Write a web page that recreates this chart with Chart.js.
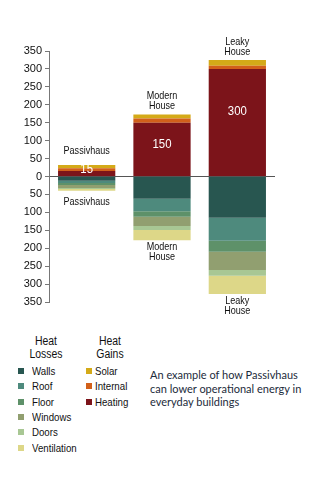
<!DOCTYPE html>
<html>
<head>
<meta charset="utf-8">
<script src="https://cdn.jsdelivr.net/npm/chart.js@4.4.1/dist/chart.umd.min.js"></script>
<style>
    body { margin: 0; background: #fff; width: 327px; height: 480px; position: relative; overflow: hidden; }
    #wrap { position: absolute; left: 0; top: 0; width: 327px; height: 330px; }
    .legend { position: absolute; font-family: "Liberation Sans", sans-serif; color: #111; font-size: 11px; }
    .legend .head { position: absolute; text-align: center; font-size: 12px; line-height: 12.5px; width: 60px; transform: scaleX(0.87); }
    .legend .item { position: absolute; white-space: nowrap; line-height: 12px; transform: scaleX(0.88); transform-origin: left center; }
    .legend .sw { position: absolute; width: 6px; height: 6px; }
    .caption { position: absolute; left: 150px; top: 368px; font-family: Lato, "Open Sans", sans-serif; font-size: 11px; line-height: 13.5px; color: #1c2b3b; }
</style>
</head>
<body>
<div id="wrap"><canvas id="chart"></canvas></div>
<div class="legend" id="legend"></div>
<div class="caption">An example of how Passivhaus<br>can lower operational energy in<br>everyday buildings</div>
<script>
// values (kWh/m2/yr), losses drawn below zero
const categories = ['Passivhaus', 'Modern House', 'Leaky House'];
const heating = [15, 150, 300];
const internal = [8, 12, 9];
const solar = [9, 11, 16];
const walls = [-12, -62, -115];
const roof = [-6, -35, -64];
const floor = [-6, -15, -31];
const windows = [-8, -26, -51];
const doors = [-3, -11, -16];
const ventilation = [-5, -29, -51];
const yTicks = [-350, -300, -250, -200, -150, -100, -50, 0, 50, 100, 150, 200, 250, 300, 350];

const lossSeries = [
    { label: 'Walls', data: walls, color: '#285650' },
    { label: 'Roof', data: roof, color: '#4e8a7d' },
    { label: 'Floor', data: floor, color: '#5e9169' },
    { label: 'Windows', data: windows, color: '#919f70' },
    { label: 'Doors', data: doors, color: '#a8c794' },
    { label: 'Ventilation', data: ventilation, color: '#ddd788' }
];
const gainSeries = [
    { label: 'Heating', data: heating, color: '#7c141a' },
    { label: 'Internal', data: internal, color: '#d2601a' },
    { label: 'Solar', data: solar, color: '#d4aa18' }
];

// condensed text: squeeze horizontally around the anchor
function narrowText(ctx, txt, x, y, sx) {
    ctx.save();
    ctx.translate(x, y);
    ctx.scale(sx, 1);
    ctx.fillText(txt, 0, 0);
    ctx.restore();
}

const barLabels = {
    id: 'barLabels',
    afterDatasetsDraw(chart) {
        const ctx = chart.ctx;
        const y = chart.scales.y;
        const x = chart.scales.x;
        ctx.save();
        categories.forEach((name, i) => {
            const cx = x.getPixelForValue(i);
            const top = heating[i] + internal[i] + solar[i];
            const bottom = walls[i] + roof[i] + floor[i] + windows[i] + doors[i] + ventilation[i];
            const lines = name.split(' ');
            ctx.fillStyle = '#111';
            ctx.font = '10.5px "Liberation Sans", sans-serif';
            ctx.textAlign = 'center';
            // names above
            ctx.textBaseline = 'bottom';
            const gapTop = lines.length === 1 ? 9 : 3;
            lines.slice().reverse().forEach((ln, k) => {
                narrowText(ctx, ln, cx, y.getPixelForValue(top) - gapTop - k * 10, 0.86);
            });
            // names below
            ctx.textBaseline = 'top';
            const gapBot = lines.length === 1 ? 6 : 2;
            lines.forEach((ln, k) => {
                narrowText(ctx, ln, cx, y.getPixelForValue(bottom) + gapBot + k * 10, 0.86);
            });
            // heating value
            ctx.fillStyle = '#fff';
            ctx.font = '12px "Liberation Sans", sans-serif';
            ctx.textBaseline = 'middle';
            narrowText(ctx, String(heating[i]), cx, y.getPixelForValue(Math.max(heating[i] * 0.6, 18)), 0.95);
        });
        ctx.restore();
    }
};

new Chart(document.getElementById('chart'), {
    type: 'bar',
    data: {
        labels: categories,
        datasets: [...gainSeries, ...lossSeries].map(s => ({
            label: s.label,
            data: s.data,
            backgroundColor: s.color,
            borderWidth: 0,
            barPercentage: 0.76,
            categoryPercentage: 1
        }))
    },
    options: {
        responsive: true, maintainAspectRatio: false, animation: false,
        layout: { padding: { left: 0, right: 52, top: 51, bottom: 28 } },
        plugins: { legend: { display: false }, tooltip: { enabled: false } },
        scales: {
            x: { stacked: true, display: false },
            y: {
                stacked: true, min: -350, max: 350,
                afterBuildTicks: s => { s.ticks = yTicks.map(v => ({ value: v })); },
                afterFit: s => { s.width = 49; },
                border: { color: '#777', width: 1 },
                grid: {
                    color: c => (c.tick && c.tick.value === 0) ? '#555' : 'rgba(0,0,0,0)',
                    tickColor: '#777', tickLength: 4, lineWidth: 1
                },
                ticks: {
                    color: '#111', padding: 3,
                    font: { family: '"Liberation Sans", sans-serif', size: 11 },
                    callback: v => Math.abs(v)
                }
            }
        }
    },
    plugins: [barLabels]
});

// legend
const legend = document.getElementById('legend');
let html = '';
html += '<div class="head" style="left:16px;top:335px">Heat<br>Losses</div>';
html += '<div class="head" style="left:80px;top:335px">Heat<br>Gains</div>';
lossSeries.forEach((s, k) => {
    const t = 365 + k * 15.3;
    html += `<div class="sw" style="left:18px;top:${t + 3}px;background:${s.color}"></div>`;
    html += `<div class="item" style="left:32px;top:${t}px">${s.label}</div>`;
});
gainSeries.slice().reverse().forEach((s, k) => {
    const t = 365 + k * 15.3;
    html += `<div class="sw" style="left:86px;top:${t + 3}px;background:${s.color}"></div>`;
    html += `<div class="item" style="left:95px;top:${t}px">${s.label}</div>`;
});
legend.innerHTML = html;
</script>
</body>
</html>
